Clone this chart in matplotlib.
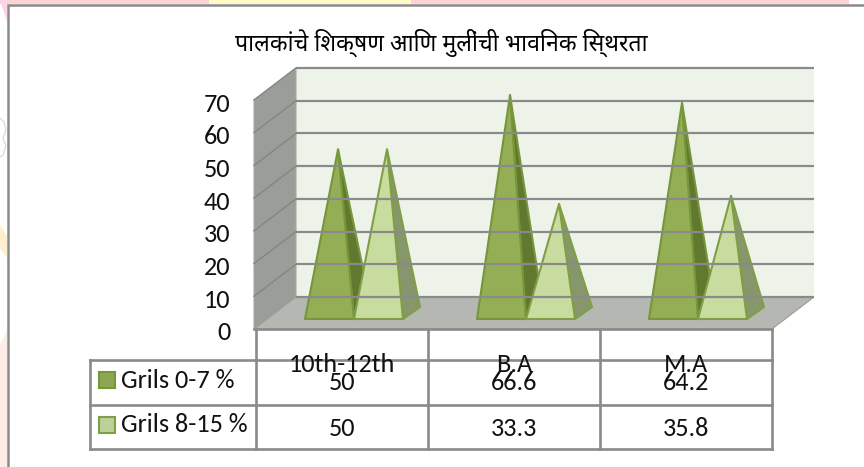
import re

import matplotlib
matplotlib.use('Agg')
import matplotlib.pyplot as plt
from matplotlib.patches import Polygon, Rectangle
from matplotlib.transforms import ScaledTranslation

# chart data
title_text = 'पालकांचे शिक्षण आणि मुलींची भावनिक स्थिरता'
categories = ['10th-12th', 'B.A', 'M.A']
series_names = ['Grils 0-7 %', 'Grils 8-15 %']
girls_0_7 = [50, 66.6, 64.2]
girls_8_15 = [50, 33.3, 35.8]
y_ticks = [0, 10, 20, 30, 40, 50, 60, 70]

# colours
GRID = '#8A8A8A'
WALL = '#9B9D99'
BACK = '#EEF3EA'
FLOOR = '#B5B7B2'
DARK_STYLE = ('#93AE55', '#61792F', '#769639')
LIGHT_STYLE = ('#C8DCA0', '#87966C', '#7F9F45')

W, H = 864, 467
NUM_FONT = ['Carlito', 'DejaVu Sans']
NUM_SIZE = 18.9
TEXT = '#111111'


def fix_matras(text):
    # matplotlib does no Devanagari shaping, so the short i sign has to come
    # before its consonant cluster in the drawn string
    return re.sub('((?:[क-ह]्)*[क-ह])ि', 'ि\\1', text)


def pyramid(ax, left, width, value, style, base_y, depth_x, depth_y):
    # front face and right face of one pyramid standing on the floor
    front, side, edge = style
    right = left + width
    apex = (left + width / 2 + depth_x / 2, base_y + depth_y / 2 + value)
    ax.add_patch(Polygon([(right, base_y), (right + depth_x, base_y + depth_y), apex],
                         facecolor=side, edgecolor=edge, lw=1.5, clip_on=False, joinstyle='round'))
    ax.add_patch(Polygon([(left, base_y), (right, base_y), apex],
                         facecolor=front, edgecolor=edge, lw=1.5, clip_on=False, joinstyle='round'))


fig = plt.figure(figsize=(W / 100, H / 100), dpi=100)

# page layer in pixels: what is left of the slide behind, frame, data table
page = fig.add_axes([0, 0, 1, 1])
page.set_xlim(0, W)
page.set_ylim(H, 0)
page.axis('off')
page.add_patch(Rectangle((0, 0), 209, 4, color='#FFD3D3', lw=0))
page.add_patch(Rectangle((209, 0), 202, 4, color='#FFFBC6', lw=0))
page.add_patch(Rectangle((411, 0), 438, 4, color='#FFD3D3', lw=0))
page.add_patch(Polygon([(0, 0), (7, 0), (7, 22)], color='#FBD5E6', lw=0))
page.add_patch(Polygon([(0, 225), (7, 236), (7, 258), (0, 248)], color='#FFEFCF', lw=0))
page.add_patch(Polygon([(0, 345), (7, 330), (7, 467), (0, 467)], color='#FDEDE6', lw=0))
page.plot([0, 4, 6, 3, 6, 3, 0], [118, 122, 130, 138, 146, 155, 157], color='#D8D8D8', lw=0.9)
page.plot([8, 8, W], [H, 4.5, 4.5], color=GRID, lw=1.8, solid_joinstyle='miter')

# table lines
col_x = [256, 428, 600, 772]
row_y = [360, 405, 449]
for x in col_x:
    page.plot([x, x], [329, row_y[-1]], color=GRID, lw=1.9)
page.plot([90, 90], [row_y[0], row_y[-1]], color=GRID, lw=1.9)
for y in row_y:
    page.plot([90, col_x[-1]], [y, y], color=GRID, lw=1.9)

# table texts
for i, name in enumerate(categories):
    center = (col_x[i] + col_x[i + 1]) / 2
    page.text(center, 364.5, name, ha='center', va='center', family=NUM_FONT, fontsize=NUM_SIZE, color=TEXT)
    page.text(center, 382.5, f'{girls_0_7[i]:g}', ha='center', va='center', family=NUM_FONT, fontsize=NUM_SIZE, color=TEXT)
    page.text(center, 428.5, f'{girls_8_15[i]:g}', ha='center', va='center', family=NUM_FONT, fontsize=NUM_SIZE, color=TEXT)

# legend keys sit in the table's first column
for name, style, y, key_fill in zip(series_names, (DARK_STYLE, LIGHT_STYLE), (380, 425), ('#8CA652', '#BED09A')):
    page.add_patch(Rectangle((99, y - 8), 16, 16, facecolor=key_fill, edgecolor=style[2], lw=1.5))
    page.text(121, y, name, ha='left', va='center', family=NUM_FONT, fontsize=NUM_SIZE, color=TEXT)

page.text(441, 42.5, fix_matras(title_text), ha='center', va='center',
          family=['Noto Sans Devanagari', 'Lohit Devanagari'], fontsize=16.65, weight='medium', color='black')

# the chart: the axes box is the front plane of the 3-D room
ax = fig.add_axes([256 / W, 1 - 329 / H, (772 - 256) / W, (329 - 100) / H])
ax.patch.set_visible(False)
ax.set_xlim(0, len(categories))
ax.set_ylim(0, 70)
for spine in ax.spines.values():
    spine.set_visible(False)
ax.set_xticks([])
ax.set_yticks(y_ticks)
ax.tick_params(axis='y', length=0, pad=18.5)
label_shift = ScaledTranslation(0, -2 / 100, fig.dpi_scale_trans)
for label in ax.get_yticklabels():
    label.set_family(NUM_FONT)
    label.set_fontsize(NUM_SIZE)
    label.set_color(TEXT)
    label.set_va('center_baseline')
    label.set_transform(label.get_transform() + label_shift)

px_x = len(categories) / (772 - 256)
px_y = 70 / (329 - 100)
room_x = 42 * px_x
room_y = 32 * px_y
wall_x = -2 * px_x
top = y_ticks[-1]

ax.add_patch(Rectangle((wall_x + room_x, room_y), 3 - wall_x, top, facecolor=BACK, lw=0, clip_on=False))
ax.add_patch(Polygon([(wall_x, 0), (wall_x + room_x, room_y), (wall_x + room_x, room_y + top), (wall_x, top)],
                     facecolor=WALL, edgecolor='#A8AAA6', lw=0.8, clip_on=False))
ax.add_patch(Polygon([(wall_x, 0), (3, 0), (3 + room_x, room_y), (wall_x + room_x, room_y)],
                     facecolor=FLOOR, edgecolor='#9A9C98', lw=0.8, clip_on=False))
for v in y_ticks:
    ax.plot([wall_x + room_x, 3 + room_x], [v + room_y, v + room_y], color=GRID, lw=1.6, clip_on=False,
            solid_capstyle='butt')
    if v > 0:
        ax.plot([wall_x, wall_x + room_x], [v, v + room_y], color='#848683', lw=1.0, clip_on=False)
ax.plot([wall_x, 3], [0, 0], color=GRID, lw=1.9, clip_on=False)

# pyramids, dark one first so the light one overlaps its shaded face
bar_w = 49 * px_x
base_y = 10 * px_y
base_dx = 17 * px_x
base_dy = 12 * px_y
for i in range(len(categories)):
    pyramid(ax, i + bar_w, bar_w, girls_0_7[i], DARK_STYLE, base_y, base_dx, base_dy)
    pyramid(ax, i + 2 * bar_w, bar_w, girls_8_15[i], LIGHT_STYLE, base_y, base_dx, base_dy)

fig.savefig('out.png', dpi=100)
